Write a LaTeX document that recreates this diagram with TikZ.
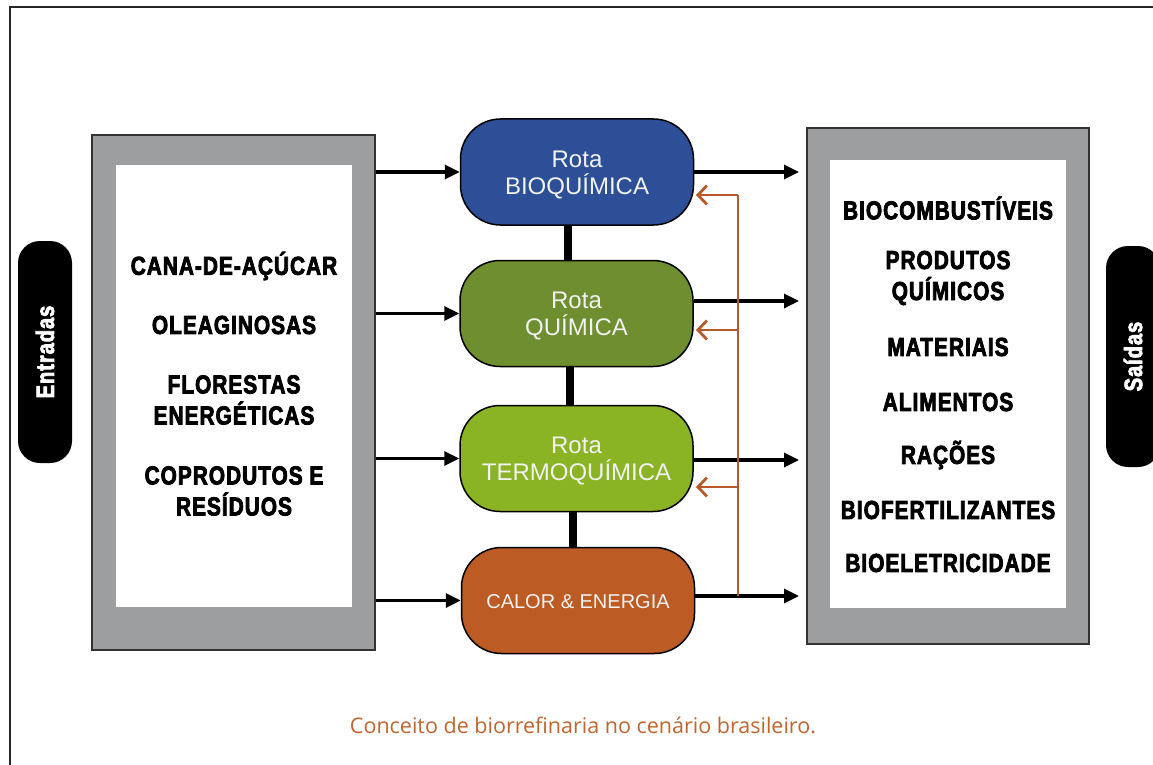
\documentclass[tikz,border=0pt]{standalone}
\usepackage{fontspec}
\setmainfont{Liberation Sans}
\newfontfamily\heavy[FakeStretch=0.8,LetterSpace=4,BoldFont={Liberation Sans Bold},BoldFeatures={FakeBold=3}]{Liberation Sans}
\newfontfamily\capfont{Open Sans}
\usetikzlibrary{arrows.meta}
\definecolor{boxgray}{HTML}{9D9EA0}
\definecolor{biocol}{HTML}{2C4F97}
\definecolor{quimcol}{HTML}{6E8E30}
\definecolor{termocol}{HTML}{8BB425}
\definecolor{calorcol}{HTML}{BD5B25}
\definecolor{fbcol}{HTML}{B8592A}
\definecolor{capcol}{HTML}{C0652F}
\tikzset{
  graybox/.style={draw=black!80, line width=2pt, fill=boxgray, inner sep=0pt},
  whitebox/.style={fill=white, inner sep=0pt},
  item/.style={align=center, font=\heavy\bfseries\fontsize{26}{31}\selectfont},
  pill/.style={fill=black, rounded corners=22pt, minimum width=54pt, inner sep=0pt},
  pilltext/.style={rotate=90, text=white, font=\heavy\bfseries\fontsize{25}{28}\selectfont},
  route/.style={draw=black, line width=1.5pt, rounded corners=40pt, minimum width=233pt,
    minimum height=106pt, inner sep=0pt},
  routetext/.style={text=white!95!black, align=center, inner sep=0pt,
    font=\fontsize{24}{27}\selectfont},
  bar/.style={line width=8pt},
  arr/.style={line width=3.3pt, -{Triangle[length=15pt,width=14pt]}},
  fbtrunk/.style={draw=fbcol, line width=2.8pt},
  fbarr/.style={draw=fbcol, line width=2.8pt, -{Straight Barb[length=9pt,width=19pt]}},
}
\begin{document}
\begin{tikzpicture}[x=1pt,y=-1pt]
\useasboundingbox (0,0) rectangle (1153,765);
% outer frame (top and left only)
\draw[line width=2pt, black!85] (10,765) -- (10,7) -- (1153,7);

% input box
\node[graybox, minimum width=283pt, minimum height=515pt] (lbox) at (233.5,392.5) {};
\node[whitebox, minimum width=236pt, minimum height=442pt] (lwhite) at (234,386) {};
\node[item] (i1) at (234,266) {CANA-DE-AÇÚCAR};
\node[item] (i2) at (234,325) {OLEAGINOSAS};
\node[item] (i3) at (234,400) {FLORESTAS\\ENERGÉTICAS};
\node[item] (i4) at (234,491) {COPRODUTOS E\\RESÍDUOS};

% output box
\node[graybox, minimum width=282pt, minimum height=516pt] (rbox) at (948,386) {};
\node[whitebox, minimum width=236pt, minimum height=448pt] (rwhite) at (948,384) {};
\node[item] (o1) at (948,208) {BIOCOMBUSTÍVEIS};
\node[item] (o2) at (948,278) {PRODUTOS\\QUÍMICOS};
\node[item] (o3) at (948,347) {MATERIAIS};
\node[item] (o4) at (948,402) {ALIMENTOS};
\node[item] (o5) at (948,455) {RAÇÕES};
\node[item] (o6) at (948,510) {BIOFERTILIZANTES};
\node[item] (o7) at (948,563) {BIOELETRICIDADE};

% side pills
\node[pill, minimum height=222pt] (ent) at (45,352) {};
\node[pilltext] (entt) at (ent.center) {Entradas};
\node[pill, minimum height=221pt] (sai) at (1133,356.5) {};
\node[pilltext] (sait) at (sai.center) {Saídas};

% routes
\node[route, fill=biocol] (bio) at (577,172) {};
\node[route, fill=quimcol] (quim) at (576.5,313.5) {};
\node[route, fill=termocol] (termo) at (576.5,458.5) {};
\node[route, fill=calorcol] (calor) at (578,600.5) {};
\node[routetext] (biot) at ([yshift=-3pt]bio.center) {Rota\\BIOQUÍMICA};
\node[routetext] (quimt) at ([yshift=-3pt]quim.center) {Rota\\QUÍMICA};
\node[routetext] (termot) at ([yshift=-3pt]termo.center) {Rota\\TERMOQUÍMICA};
\node[routetext, font=\fontsize{20}{24}\selectfont] (calort) at ([yshift=-1.5pt]calor.center) {CALOR \& ENERGIA};

% vertical links
\draw[bar] ([xshift=-9pt]bio.south) -- ([xshift=-8.5pt]quim.north);
\draw[bar] ([xshift=-6.5pt]quim.south) -- ([xshift=-6.5pt]termo.north);
\draw[bar] ([xshift=-3.5pt]termo.south) -- ([xshift=-5pt]calor.north);

% input arrows
\draw[arr] (lbox.east |- bio.west) -- (bio.west);
\draw[arr] (lbox.east |- quim.west) -- (quim.west);
\draw[arr] (lbox.east |- termo.west) -- (termo.west);
\draw[arr] (lbox.east |- calor.west) -- (calor.west);

% output arrows
\coordinate (bo) at (bio.east);
\coordinate (qo) at ([yshift=12.5pt]quim.east);
\coordinate (to) at ([yshift=-1.5pt]termo.east);
\coordinate (co) at ([yshift=4.5pt]calor.east);
\draw[arr, shorten >=7pt] (bo) -- (rbox.west |- bo);
\draw[arr, shorten >=7pt] (qo) -- (rbox.west |- qo);
\draw[arr, shorten >=7pt] (to) -- (rbox.west |- to);
\draw[arr, shorten >=7pt] (co) -- (rbox.west |- co);

% feedback lines
\coordinate (fb) at (738,596);
\coordinate (fbtop) at (738,195);
\coordinate (bioin) at (696,195);
\coordinate (quimin) at (696,330);
\coordinate (termoin) at (696,487);
\draw[fbtrunk] (fb) -- (fbtop);
\draw[fbarr] (fbtop) -- (bioin);
\draw[fbarr] (fb |- quimin) -- (quimin);
\draw[fbarr] (fb |- termoin) -- (termoin);

% caption
\node[text=capcol, font=\capfont\fontsize{21.5}{25}\selectfont] (cap) at (583,725)
  {Conceito de biorrefinaria no cenário brasileiro.};
\end{tikzpicture}
\end{document}
